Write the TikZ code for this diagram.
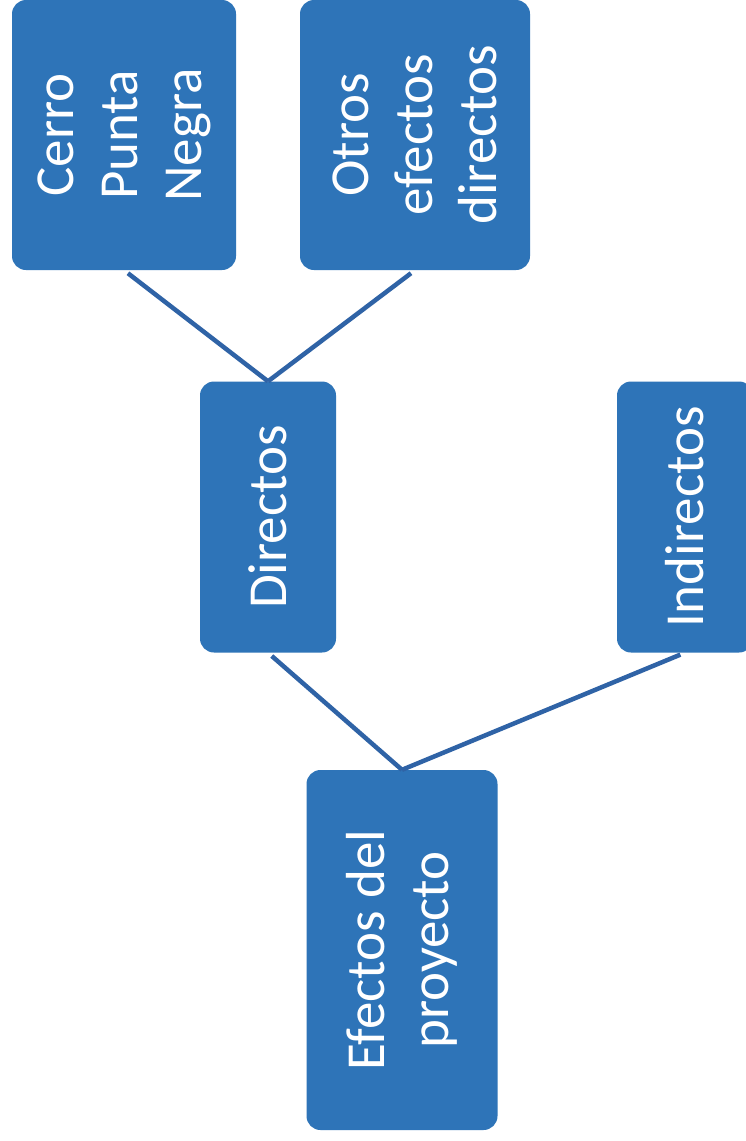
\documentclass[tikz,border=0pt]{standalone}
\usepackage{fontspec}
\setmainfont{Carlito}
\usepackage{tikz}

\definecolor{boxblue}{HTML}{2E74B8}
\definecolor{lineblue}{HTML}{2F63A6}

\begin{document}
\begin{tikzpicture}[x=1pt,y=-1pt,
  efbox/.style={draw=none, fill=boxblue, rounded corners=14pt, rotate=90, text=white,
    align=center, inner sep=0pt, font=\fontsize{55}{64}\selectfont},
  link/.style={draw=lineblue, line width=4.5pt, shorten <=5pt}]
\path[use as bounding box, fill=white] (0,0) rectangle (746,1141);

    \node[efbox, minimum width=270, minimum height=224] (cerro) at (124,135) {Cerro\\Punta\\Negra};
    \node[efbox, minimum width=270, minimum height=230] (otros) at (415,135) {Otros\\efectos\\directos};
    \node[efbox, minimum width=271, minimum height=136] (dir) at (268,517) {Directos};
    \node[efbox, minimum width=271, minimum height=136] (indir) at (685,517) {Indirectos};
    \node[efbox, minimum width=360, minimum height=191] (efectos) at (402,950) {Efectos del\\proyecto};

\draw[link] (cerro.west) -- (dir.east);
\draw[link] (otros.west) -- (dir.east);
\draw[link] (dir.west) -- (efectos.east);
\draw[link] (indir.west) -- (efectos.east);

\end{tikzpicture}
\end{document}
